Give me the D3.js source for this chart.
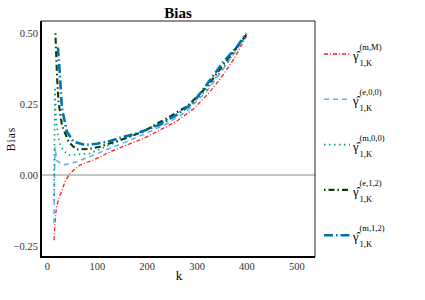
<!DOCTYPE html>
<html>
<head>
<meta charset="utf-8">
<script src="https://cdn.jsdelivr.net/npm/d3@7"></script>
<style>
  body { margin: 0; background: #fff; }
  svg text { font-family: "Liberation Serif", "DejaVu Serif", serif; }
</style>
</head>
<body>
<div id="chart"></div>
<script>
// series values (k, bias)
const kMM = [14, 16, 18, 20, 25, 30, 36, 46, 66, 93, 125, 160, 195, 227, 260, 293, 325, 350, 375, 400];
const biasMM = [-0.23, -0.17, -0.13, -0.105, -0.075, -0.055, -0.024, 0.006, 0.035, 0.053, 0.08, 0.106, 0.13, 0.159, 0.19, 0.232, 0.29, 0.345, 0.41, 0.49];

const kE00 = [14, 16, 20, 33, 60, 93, 126, 160, 200, 240, 280, 320, 354, 400];
const biasE00 = [-0.17, 0.1, 0.05, 0.035, 0.047, 0.07, 0.094, 0.118, 0.148, 0.18, 0.225, 0.295, 0.375, 0.492];

const kM00 = [14, 16, 18, 22, 26, 33, 46, 86, 133, 180, 230, 280, 320, 354, 400];
const biasM00 = [-0.09, 0.31, 0.2, 0.14, 0.11, 0.085, 0.07, 0.076, 0.112, 0.145, 0.183, 0.235, 0.3, 0.38, 0.492];

const kE12 = [17, 18, 20, 23, 30, 43, 53, 60, 86, 106, 150, 193, 230, 280, 320, 354, 400];
const biasE12 = [0.5, 0.447, 0.353, 0.26, 0.176, 0.118, 0.1, 0.09, 0.092, 0.1, 0.125, 0.153, 0.19, 0.241, 0.31, 0.39, 0.496];

const kM12 = [22, 26, 30, 40, 53, 76, 100, 126, 150, 180, 200, 227, 260, 293, 320, 354, 380, 400];
const biasM12 = [0.45, 0.35, 0.235, 0.153, 0.118, 0.106, 0.11, 0.12, 0.133, 0.147, 0.16, 0.178, 0.212, 0.255, 0.318, 0.4, 0.45, 0.5];

const seriesSup = ["(m,M)", "(e,0,0)", "(m,0,0)", "(e,1,2)", "(m,1,2)"];
const xTicks = [0, 100, 200, 300, 400, 500];
const yTicks = [-0.25, 0, 0.25, 0.5];

const series = [
    {k: kMM, v: biasMM, color: "#ff1a1a", width: 1.3, dash: "4,2,1,2"},
    {k: kE00, v: biasE00, color: "#56b4e9", width: 1.5, dash: "5,4"},
    {k: kM00, v: biasM00, color: "#009e73", width: 1.6, dash: "1.5,3.5"},
    {k: kE12, v: biasE12, color: "#0b3d0b", width: 2.1, dash: "1.5,3,6,3"},
    {k: kM12, v: biasM12, color: "#0072b2", width: 2.6, dash: "9,3,1.5,3"}
];

const W = 425, H = 300;
const panel = {left: 41, right: 315, top: 21, bottom: 257};
const serif = "Liberation Serif, DejaVu Serif, serif";

const svg = d3.select("#chart")
    .append("svg")
    .attr("width", W)
    .attr("height", H)
    .attr("font-family", serif);

const x = d3.scaleLinear()
    .domain([-12, 537.5])
    .range([panel.left, panel.right]);

const y = d3.scaleLinear()
    .domain([-0.2893, 0.5434])
    .range([panel.bottom, panel.top]);

// zero reference line
svg.append("line")
    .attr("x1", panel.left).attr("x2", panel.right)
    .attr("y1", y(0)).attr("y2", y(0))
    .attr("stroke", "#8a8a8a")
    .attr("stroke-width", 1);

// panel border: thin top/right
svg.append("path")
    .attr("d", `M${panel.left},${panel.top}H${panel.right}V${panel.bottom}`)
    .attr("fill", "none")
    .attr("stroke", "#222")
    .attr("stroke-width", 1);

// curves
const line = d3.line()
    .x(d => x(d[0]))
    .y(d => y(d[1]));

const plot = svg.append("g");
series.forEach(s => {
    plot.append("path")
        .datum(d3.zip(s.k, s.v))
        .attr("d", line)
        .attr("fill", "none")
        .attr("stroke", s.color)
        .attr("stroke-width", s.width)
        .attr("stroke-dasharray", s.dash);
});

// axes
const xAxis = svg.append("g")
    .attr("transform", `translate(0,${panel.bottom})`)
    .call(d3.axisBottom(x).tickValues(xTicks).tickSize(0).tickPadding(6).tickFormat(d3.format("d")))
    .attr("font-family", serif);
xAxis.select(".domain").attr("stroke", "#000").attr("stroke-width", 2)
    .attr("d", `M${panel.left},0H${panel.right}`);
xAxis.selectAll("text").attr("font-size", 10.5).attr("fill", "#333");

const yAxis = svg.append("g")
    .attr("transform", `translate(${panel.left},0)`)
    .call(d3.axisLeft(y).tickValues(yTicks).tickSize(0).tickPadding(3).tickFormat(d3.format(".2f")))
    .attr("font-family", serif);
yAxis.select(".domain").attr("stroke", "#000").attr("stroke-width", 2)
    .attr("d", `M0,${panel.top}V${panel.bottom + 1}`);
yAxis.selectAll("text").attr("font-size", 10.5).attr("fill", "#333");

// title and axis labels
svg.append("text")
    .attr("x", 178)
    .attr("y", 18)
    .attr("text-anchor", "middle")
    .attr("font-size", 15)
    .attr("font-weight", "bold")
    .text("Bias");

svg.append("text")
    .attr("x", 179)
    .attr("y", 280)
    .attr("text-anchor", "middle")
    .attr("font-size", 13)
    .text("k");

svg.append("text")
    .attr("transform", `translate(15,${(panel.top + panel.bottom) / 2}) rotate(-90)`)
    .attr("text-anchor", "middle")
    .attr("font-size", 11.5)
    .attr("letter-spacing", 1)
    .text("Bias");

// legend: gamma-hat with superscript and subscript
const legend = svg.append("g");
series.forEach((s, i) => {
    const cy = 54 + i * 45.3;
    const g = legend.append("g");
    g.append("line")
        .attr("x1", 324).attr("x2", 350)
        .attr("y1", cy).attr("y2", cy)
        .attr("stroke", s.color)
        .attr("stroke-width", s.width)
        .attr("stroke-dasharray", s.dash);
    const t = g.append("text")
        .attr("x", 353).attr("y", cy + 6)
        .attr("font-size", 12.5);
    t.append("tspan").text("\u03b3\u0302");
    t.append("tspan")
        .attr("x", 359.5).attr("y", cy - 4)
        .attr("font-size", 8.5)
        .text(seriesSup[i]);
    t.append("tspan")
        .attr("x", 359.5).attr("y", cy + 12)
        .attr("font-size", 8.5)
        .text("1,K");
});
</script>
</body>
</html>
